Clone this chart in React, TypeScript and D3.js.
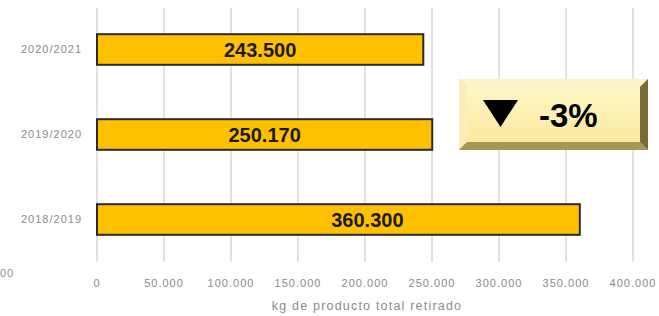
import { scaleLinear, scaleBand, format } from "d3";

const seasons = ["2020/2021", "2019/2020", "2018/2019"];
const kgRemoved = [243500, 250170, 360300];
const xTicks = [0, 50000, 100000, 150000, 200000, 250000, 300000, 350000, 400000];
const changeLabel = "-3%";
const axisTitle = "kg de producto total retirado";

const width = 659;
const height = 316;

const fmt = (v: number) => format(",")(v).replace(/,/g, ".");

export default function App() {
  const x = scaleLinear().domain([0, 400000]).range([97, 633]);
  const y = scaleBand<string>().domain(seasons).range([7, 262]).paddingInner(0.64).paddingOuter(0.32);
  const font = "'Liberation Sans', Arial, sans-serif";
  const grey = "#8a8a8a";

  return (
    <svg width={width} height={height} style={{ position: "absolute", left: 0, top: 0, background: "#fff" }}>
      <defs>
        <linearGradient id="badgeTop" x1="0" y1="0" x2="0" y2="1">
          <stop offset="0" stopColor="#fff6c4" />
          <stop offset="1" stopColor="#fbe9a0" />
        </linearGradient>
      </defs>

      {/* gridlines */}
      {xTicks.map((t) => (
        <line key={t} x1={x(t)} x2={x(t)} y1={8} y2={262} stroke="#d9d9d9" strokeWidth={1.5} />
      ))}

      {/* bars */}
      {seasons.map((s, i) => (
        <g key={s}>
          <rect
            x={x(0)}
            y={y(s)!}
            width={x(kgRemoved[i]) - x(0)}
            height={y.bandwidth()}
            fill="#ffc000"
            stroke="#2b2b2b"
            strokeWidth={2}
          />
          <text
            x={x(kgRemoved[i] * (i === 2 ? 0.56 : 0.5))}
            y={y(s)! + y.bandwidth() / 2}
            dy="0.36em"
            textAnchor="middle"
            fontFamily={font}
            fontWeight="bold"
            fontSize={20}
            fill="#1a1a1a"
          >
            {fmt(kgRemoved[i])}
          </text>
          <text
            x={82}
            y={y(s)! + y.bandwidth() / 2}
            dy="0.35em"
            textAnchor="end"
            fontFamily={font}
            fontSize={11}
            letterSpacing={1}
            fill={grey}
          >
            {s}
          </text>
        </g>
      ))}

      {/* x tick labels */}
      {xTicks.map((t) => (
        <text key={t} x={x(t)} y={287} textAnchor="middle" fontFamily={font} fontSize={11} letterSpacing={1} fill={grey}>
          {fmt(t)}
        </text>
      ))}
      <text x={0} y={277} fontFamily={font} fontSize={11} letterSpacing={1} fill={grey}>00</text>
      <text x={367} y={310} textAnchor="middle" fontFamily={font} fontSize={12.5} letterSpacing={1.2} fill={grey}>
        {axisTitle}
      </text>

      {/* change badge */}
      <g>
        <rect x={459} y={79} width={189} height={71} fill="#c9b46a" />
        <polygon points="459,79 648,79 640,87 467,87" fill="#fdf3c8" />
        <polygon points="459,79 467,87 467,142 459,150" fill="#fbeeb8" />
        <polygon points="648,79 648,150 640,142 640,87" fill="#7a6a35" />
        <polygon points="459,150 648,150 640,142 467,142" fill="#a8955a" />
        <rect x={467} y={87} width={173} height={55} fill="url(#badgeTop)" />
        <polygon points="483,100 518,100 500.5,127" fill="#000" />
        <text x={539} y={127} fontFamily={font} fontWeight="bold" fontSize={33} fill="#000">
          {changeLabel}
        </text>
      </g>
    </svg>
  );
}
